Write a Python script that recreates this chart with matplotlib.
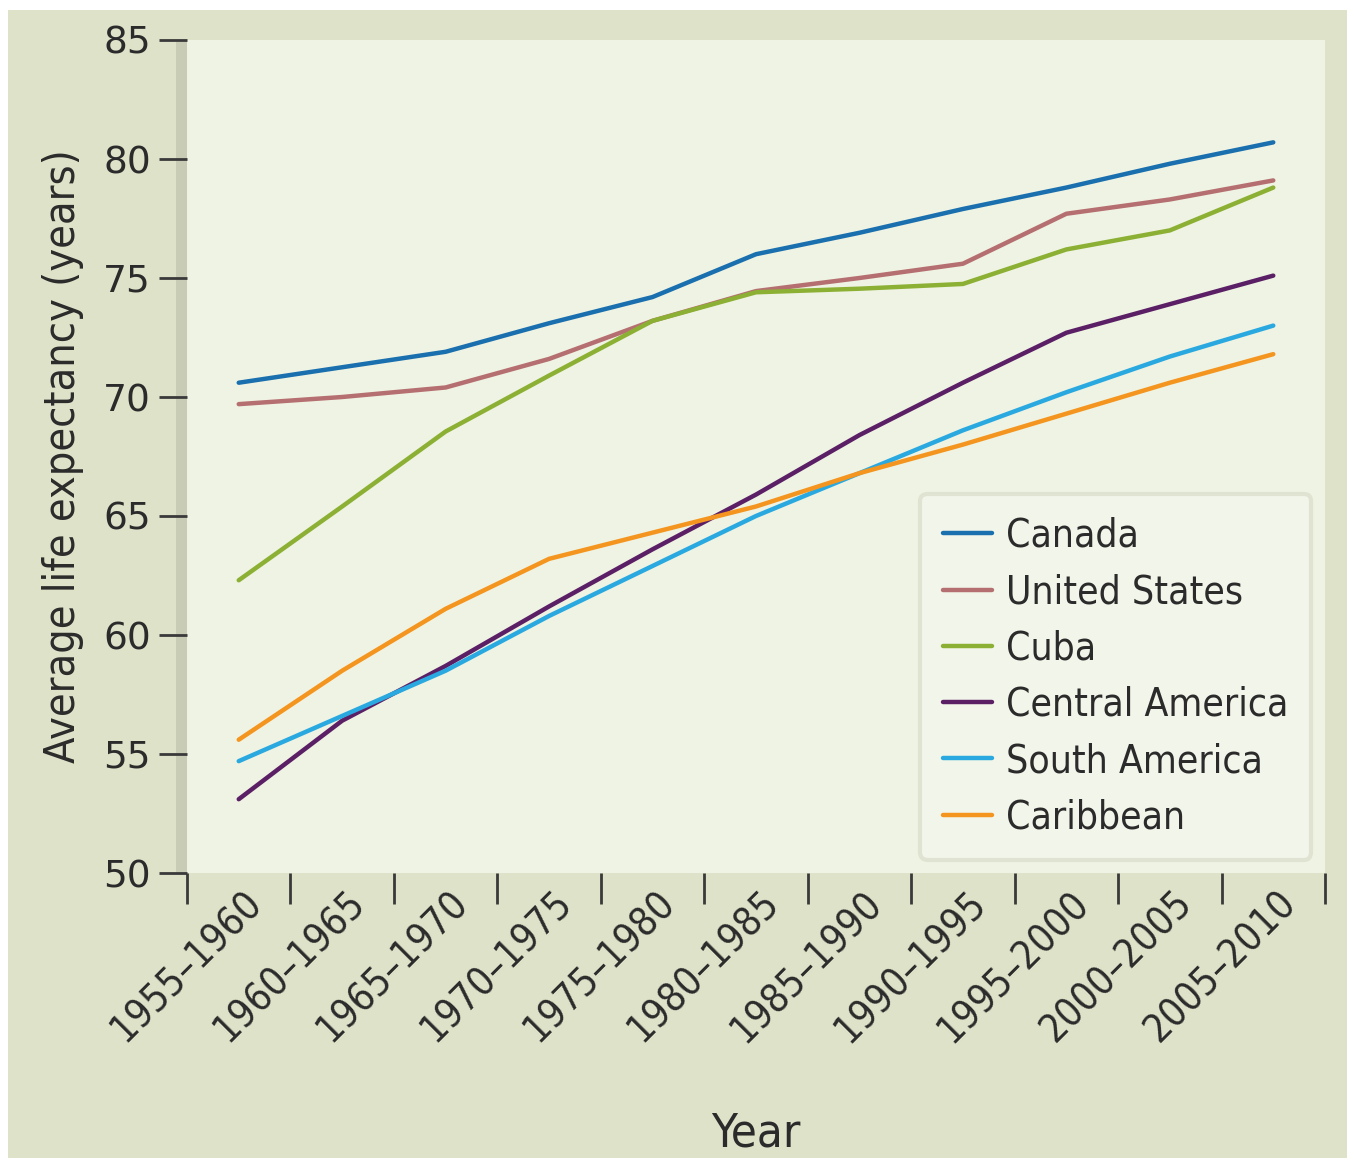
import matplotlib
matplotlib.use("Agg")
import matplotlib.pyplot as plt
import matplotlib.transforms as mtransforms
from matplotlib.patches import Rectangle
import numpy as np

#periods on the x axis
periods = ["1955–1960", "1960–1965", "1965–1970", "1970–1975", "1975–1980",
           "1980–1985", "1985–1990", "1990–1995", "1995–2000", "2000–2005",
           "2005–2010"]

#life expectancy
canada = [70.6, 71.25, 71.9, 73.1, 74.2, 76.0, 76.9, 77.9, 78.8, 79.8, 80.7]
united_states = [69.7, 70.0, 70.4, 71.6, 73.2, 74.45, 75.0, 75.6, 77.7, 78.3, 79.1]
cuba = [62.3, 65.4, 68.55, 70.9, 73.2, 74.4, 74.55, 74.75, 76.2, 77.0, 78.8]
central_america = [53.1, 56.4, 58.7, 61.2, 63.6, 65.9, 68.4, 70.6, 72.7, 73.9, 75.1]
south_america = [54.7, 56.6, 58.5, 60.8, 62.9, 65.0, 66.8, 68.6, 70.2, 71.7, 73.0]
caribbean = [55.6, 58.5, 61.1, 63.2, 64.3, 65.4, 66.8, 68.0, 69.3, 70.6, 71.8]

series = [("Canada", canada, "#1a6fae"),
          ("United States", united_states, "#b56f70"),
          ("Cuba", cuba, "#8cb034"),
          ("Central America", central_america, "#5b1f66"),
          ("South America", south_america, "#2aa9e0"),
          ("Caribbean", caribbean, "#f4951f")]

plt.rcParams["font.family"] = ["DejaVu Sans"]
plt.rcParams["font.stretch"] = "condensed"
text_col = "#2b2b2b"

fig = plt.figure(figsize=(13.55, 11.63), dpi=100, facecolor="white")
#beige panel behind everything
fig.patches.append(Rectangle((8/1355, 5/1163), 1339/1355, 1148/1163,
                             transform=fig.transFigure, facecolor="#dde2c8",
                             edgecolor="none", zorder=-10))
#grey shadow strip left of the plot panel
fig.patches.append(Rectangle((176/1355, (1163-873)/1163), 11/1355, (873-40)/1163,
                             transform=fig.transFigure, facecolor="#c8ccb4",
                             edgecolor="none", zorder=-5))

ax = fig.add_axes([187/1355, (1163-873)/1163, (1325-187)/1355, (873-40)/1163])
ax.set_zorder(1)
ax.set_facecolor("#eff3e3")
for s in ax.spines.values():
    s.set_visible(False)

x = np.arange(len(periods))
for name, vals, col in series:
    ax.plot(x, vals, color=col, lw=3.2, label=name, solid_capstyle="round", zorder=3)

ax.set_xlim(-0.46, 10.5)
ax.set_ylim(50, 85)
ax.set_yticks(np.arange(50, 86, 5))
ax.tick_params(axis="y", length=20, width=2, color="#3a3a3a", labelsize=27,
               labelcolor=text_col, pad=6)
for lab in ax.get_yticklabels():
    lab.set_fontstretch("normal")

#ticks between periods, labels centred on periods
ax.set_xticks(np.arange(-0.5, 11, 1))
ax.set_xticklabels([])
ax.set_xticks(x, minor=True)
ax.set_xticklabels(periods, minor=True, rotation=45, ha="right", va="top",
                   fontsize=28, color=text_col)
ax.tick_params(axis="x", which="major", length=22, width=2, color="#3a3a3a")
ax.tick_params(axis="x", which="minor", length=0, pad=8)
offset = mtransforms.ScaledTranslation(30/100, 0, fig.dpi_scale_trans)
for lab in ax.get_xticklabels(minor=True):
    lab.set_transform(lab.get_transform() + offset)

ax.set_ylabel("Average life expectancy (years)", fontsize=31, color=text_col,
              labelpad=14)
ax.set_xlabel("Year", fontsize=34, color=text_col, labelpad=44)

leg = ax.legend(loc="lower right", bbox_to_anchor=(0.988, 0.016), fontsize=28,
                frameon=True, fancybox=True, shadow=False, handlelength=1.25,
                handletextpad=0.35, labelspacing=0.47, borderpad=0.6,
                borderaxespad=0)
leg.get_frame().set_facecolor("#f3f6eb")
leg.get_frame().set_edgecolor("#dcdfcd")
leg.get_frame().set_linewidth(3)
for t in leg.get_texts():
    t.set_color(text_col)

fig.savefig("out.png", dpi=100, facecolor=fig.get_facecolor())
